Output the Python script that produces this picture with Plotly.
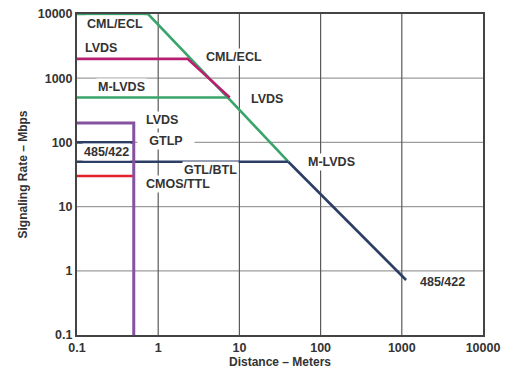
import math
import plotly.graph_objects as go

# Signaling technologies: distance (m) vs signaling rate (Mbps)
cml_ecl_x = [0.1, 0.75, 7.2]
cml_ecl_y = [10000, 10000, 500]
lvds_x = [0.1, 2.3, 7.6]
lvds_y = [2000, 2000, 500]
mlvds_x = [0.1, 7.2, 40]
mlvds_y = [500, 500, 50]
gtl_btl_x = [0.1, 40]
gtl_btl_y = [50, 50]
rs485_diag_x = [40, 1130]
rs485_diag_y = [50, 0.72]
rs485_short_x = [0.1, 0.5]
rs485_short_y = [100, 100]
lvds_box_x = [0.1, 0.5, 0.5]
lvds_box_y = [200, 200, 0.1]
cmos_ttl_x = [0.1, 0.5]
cmos_ttl_y = [30, 30]

tick_vals = [0.1, 1, 10, 100, 1000, 10000]
tick_text = ["0.1", "1", "10", "100", "1000", "10000"]

# label texts with (x, y) in data units
label_text = ["CML/ECL", "LVDS", "CML/ECL", "M-LVDS", "LVDS", "LVDS", "GTLP",
              "485/422", "GTL/BTL", "CMOS/TTL", "M-LVDS", "485/422"]
label_x = [0.29, 0.2, 8.6, 0.35, 22, 1.11, 1.25, 0.23, 4.35, 1.75, 138, 3130]
label_y = [6980, 2950, 2140, 730, 474, 224, 105, 71, 37, 22.4, 49.5, 0.67]
label_w = [None, None, None, None, None, None, 54, None, None, None, None, None]

GREEN = "#3aa56a"
MAGENTA = "#b8206f"
NAVY = "#2c3e66"
PURPLE = "#8552a0"
RED = "#e52128"

fig = go.Figure()

lo, hi = tick_vals[0], tick_vals[-1]

# grid lines (as traces so they render under the data lines)
vx, vy = [], []
for v in tick_vals[1:-1]:
    vx += [v, v, None]
    vy += [lo, hi, None]
hx, hy = [], []
for v in tick_vals[1:-1]:
    hx += [lo, hi, None]
    hy += [v, v, None]
fig.add_trace(go.Scatter(x=hx, y=hy, mode="lines", line=dict(color="#9c9c9c", width=1.3),
                         showlegend=False, hoverinfo="skip"))
fig.add_trace(go.Scatter(x=vx, y=vy, mode="lines", line=dict(color="#5a5a5a", width=1.2),
                         showlegend=False, hoverinfo="skip"))

def add(x, y, color, w=2.6):
    fig.add_trace(go.Scatter(x=x, y=y, mode="lines",
                             line=dict(color=color, width=w),
                             showlegend=False, hoverinfo="skip"))

add(cml_ecl_x, cml_ecl_y, GREEN)
add(mlvds_x, mlvds_y, GREEN)
add(lvds_x, lvds_y, MAGENTA)
add(gtl_btl_x, gtl_btl_y, NAVY)
add(rs485_diag_x, rs485_diag_y, NAVY)
add(rs485_short_x, rs485_short_y, NAVY)
add(cmos_ttl_x, cmos_ttl_y, RED)
add(lvds_box_x, lvds_box_y, PURPLE, 3)

FONT = "Liberation Sans, Arial, sans-serif"

for t, x, y, w in zip(label_text, label_x, label_y, label_w):
    fig.add_annotation(x=math.log10(x), y=math.log10(y),
                       text=f"<b>{t}</b>", showarrow=False, width=w,
                       font=dict(family=FONT, size=12.5, color="#333333"),
                       bgcolor="white", borderpad=1)

axis_common = dict(type="log", tickmode="array", tickvals=tick_vals,
                   ticktext=[f"<b>{t}</b>" for t in tick_text],
                   showgrid=False,
                   showline=True, linecolor="#444444", linewidth=2, mirror=True,
                   ticks="", zeroline=False, automargin=False,
                   tickfont=dict(family=FONT, size=12.5, color="#333333"))

fig.update_xaxes(range=[-1, 4], **axis_common,
                 title=dict(text="<b>Distance – Meters</b>", standoff=2,
                            font=dict(family=FONT, size=12, color="#333333")))
fig.update_yaxes(range=[-1, 4], **axis_common,
                 title=dict(text="<b>Signaling Rate – Mbps</b>", standoff=8,
                            font=dict(family=FONT, size=12, color="#333333")))

fig.update_layout(width=505, height=372, template="none",
                  margin=dict(l=77, r=22, t=14, b=37),
                  plot_bgcolor="white", paper_bgcolor="white")

fig.write_html("out.html", config={"displayModeBar": False},
               post_script="document.body.style.margin='0';document.body.style.overflow='hidden';")
